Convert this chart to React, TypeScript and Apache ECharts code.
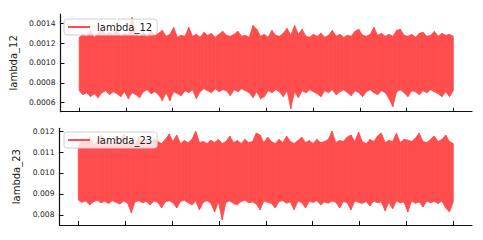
import React, { useEffect, useRef } from "react";
import * as echarts from "echarts";

// Trace envelopes (per column of iterations): upper and lower extremes
const hi12 = [
  0.00126, 0.00129, 0.00127, 0.00133, 0.00126, 0.0013, 0.00135, 0.00127, 0.00131, 0.00128,
  0.00134, 0.00127, 0.0013, 0.00128, 0.00146, 0.00129, 0.00127, 0.00131, 0.00126, 0.00133,
  0.00128, 0.0013, 0.00133, 0.00127, 0.00129, 0.00136, 0.00126, 0.00128, 0.00127, 0.00136,
  0.00127, 0.00129, 0.00126, 0.00131, 0.00128, 0.0013, 0.00126, 0.00129, 0.00132, 0.00128,
  0.00127, 0.00129, 0.00132, 0.00127, 0.00128, 0.00126, 0.00138, 0.00134, 0.00127, 0.00129,
  0.00126, 0.00133, 0.00128, 0.00127, 0.0013, 0.00135, 0.00128, 0.00138, 0.00129, 0.00134,
  0.00127, 0.00126, 0.00129, 0.00127, 0.0013, 0.00126, 0.00128, 0.00133, 0.00127, 0.00129,
  0.00126, 0.00128, 0.00127, 0.00132, 0.00134, 0.00128, 0.00127, 0.00129, 0.00136, 0.00128,
  0.0013, 0.00127, 0.00129, 0.00127, 0.00133, 0.00134, 0.00128, 0.00127, 0.00129, 0.00126,
  0.0013, 0.00131, 0.00127, 0.00128, 0.00132, 0.00127, 0.0013, 0.00128, 0.00129, 0.00127,
];
const lo12 = [
  0.00072, 0.00068, 0.0007, 0.00066, 0.00069, 0.00065, 0.0007, 0.00072, 0.00068, 0.00071,
  0.00069, 0.00066, 0.00071, 0.00064, 0.0007, 0.00068, 0.00065, 0.00071, 0.00073, 0.00069,
  0.00071, 0.00068, 0.00062, 0.0007, 0.00062, 0.00071, 0.00069, 0.00067, 0.00072, 0.0007,
  0.00073, 0.00064, 0.00071, 0.00074, 0.00072, 0.0007, 0.00074, 0.00071, 0.00073, 0.00072,
  0.00067, 0.00073, 0.00071, 0.00074, 0.00072, 0.0007, 0.00065, 0.00071, 0.00064, 0.00066,
  0.00072, 0.0007, 0.00073, 0.00071, 0.00066, 0.00072, 0.00054, 0.00071, 0.00065, 0.00072,
  0.0007, 0.00073, 0.00071, 0.00069, 0.00066, 0.00072, 0.0007, 0.00073, 0.00068, 0.00071,
  0.00073, 0.0007, 0.00067, 0.00072, 0.0007, 0.00066, 0.00071, 0.00073, 0.0007, 0.00068,
  0.00072, 0.0007, 0.00064, 0.00056, 0.00071, 0.00073, 0.0007, 0.00066, 0.00072, 0.00071,
  0.00068, 0.00072, 0.0007, 0.00073, 0.00071, 0.00069, 0.00066, 0.00071, 0.00066, 0.00072,
];
const hi23 = [
  0.0113, 0.0116, 0.0114, 0.01175, 0.01135, 0.0115, 0.0118, 0.0114, 0.0116, 0.01135,
  0.0117, 0.01145, 0.01185, 0.0114, 0.01155, 0.01135, 0.0117, 0.01145, 0.0116, 0.0114,
  0.01165, 0.0115, 0.0114, 0.0116, 0.01186, 0.0115, 0.01181, 0.0114, 0.01155, 0.01145,
  0.0116, 0.012, 0.01145, 0.0115, 0.0114, 0.01157, 0.01145, 0.0116, 0.0114, 0.0115,
  0.01176, 0.01145, 0.01155, 0.0114, 0.0116, 0.01145, 0.0115, 0.0119, 0.01181, 0.01145,
  0.01171, 0.0115, 0.0114, 0.0116, 0.01145, 0.01176, 0.0115, 0.0114, 0.01155, 0.01171,
  0.01145, 0.01155, 0.0114, 0.0116, 0.01145, 0.0115, 0.0116, 0.012, 0.01145, 0.01155,
  0.0115, 0.01171, 0.01181, 0.0115, 0.01195, 0.0115, 0.0114, 0.0116, 0.0115, 0.01176,
  0.0119, 0.01145, 0.01155, 0.0115, 0.0119, 0.01145, 0.0116, 0.01157, 0.0115, 0.01165,
  0.0119, 0.0115, 0.01145, 0.0116, 0.01176, 0.0115, 0.0116, 0.01181, 0.0115, 0.0114,
];
const lo23 = [
  0.00871, 0.0086, 0.00866, 0.00848, 0.00862, 0.0087, 0.00858, 0.00865, 0.00855, 0.00868,
  0.0086, 0.00852, 0.00866, 0.00857, 0.0081, 0.00862, 0.00868, 0.00858, 0.00864, 0.00848,
  0.00866, 0.0086, 0.00833, 0.00862, 0.00868, 0.00858, 0.00833, 0.00864, 0.0087, 0.00858,
  0.00848, 0.00866, 0.00824, 0.0086, 0.00868, 0.00856, 0.00814, 0.00862, 0.00776, 0.0086,
  0.00866, 0.00855, 0.00848, 0.00864, 0.0087, 0.00858, 0.00862, 0.00852, 0.00824, 0.00866,
  0.0086, 0.00855, 0.00833, 0.00864, 0.00868, 0.00856, 0.00862, 0.00824, 0.00866, 0.00858,
  0.00833, 0.00864, 0.0086, 0.00868, 0.00848, 0.00862, 0.00856, 0.00866, 0.0086, 0.00833,
  0.00864, 0.00858, 0.00824, 0.00866, 0.0086, 0.00855, 0.00864, 0.00843, 0.00866, 0.00858,
  0.00862, 0.0082, 0.0086, 0.00829, 0.00866, 0.00858, 0.00862, 0.00814, 0.00866, 0.00856,
  0.00862, 0.00838, 0.00866, 0.00858, 0.00864, 0.00855, 0.00866, 0.00833, 0.00814, 0.00862,
];

const LAST_ITER = 8000;
const xTicks = [0, 1000, 2000, 3000, 4000, 5000, 6000, 7000, 8000];
const yTicks12 = [0.0006, 0.0008, 0.001, 0.0012, 0.0014];
const yTicks23 = [0.008, 0.009, 0.01, 0.011, 0.012];
const names = ["lambda_12", "lambda_23"];

const RED = "#ff4d4d";
const FONT = "DejaVu Sans";

function iterOf(i: number, n: number) {
  return (i * LAST_ITER) / (n - 1);
}

export default function App() {
  const ref = useRef<HTMLDivElement>(null);
  useEffect(() => {
    if (!ref.current) return;
    const chart = echarts.init(ref.current, undefined, { renderer: "svg" });
    const mkAxisX = (gi: number) => ({
      type: "value",
      gridIndex: gi,
      min: -400,
      max: 8400,
      z: 5,
      axisLine: { show: true, onZero: false, lineStyle: { color: "#111", width: 1.2 } },
      axisTick: { show: true, inside: true, length: 4, customValues: xTicks, lineStyle: { color: "#111", width: 1 } },
      axisLabel: { show: false, customValues: xTicks },
      splitLine: { show: false },
    });
    const mkAxisY = (gi: number, name: string, min: number, max: number, ticks: number[], dec: number) => ({
      type: "value",
      gridIndex: gi,
      min,
      max,
      z: 5,
      name,
      nameLocation: "middle",
      nameGap: 31,
      nameTextStyle: { fontFamily: FONT, fontSize: 10, color: "#222" },
      axisLine: { show: true, onZero: false, lineStyle: { color: "#111", width: 1.2 } },
      axisTick: { show: true, inside: true, length: 4, customValues: ticks, lineStyle: { color: "#111", width: 1 } },
      axisLabel: {
        show: true,
        customValues: ticks,
        margin: 5,
        fontFamily: FONT,
        fontSize: 7.6,
        color: "#222",
        formatter: (v: number) => v.toFixed(dec),
      },
      splitLine: { show: false },
    });
    const mkSeries = (name: string, hi: number[], lo: number[], ai: number) => ({
      name,
      type: "custom",
      xAxisIndex: ai,
      yAxisIndex: ai,
      itemStyle: { color: RED },
      encode: { x: 0, y: [1, 2] },
      silent: true,
      data: hi.map((v, i) => [iterOf(i, hi.length), v, lo[i]]),
      renderItem: (params: any, api: any) => {
        const i = params.dataIndexInside;
        if (i >= params.dataInsideLength - 1) return null;
        const x0 = api.value(0, i);
        const x1 = api.value(0, i + 1);
        const pts = [
          api.coord([x0, api.value(1, i)]),
          api.coord([x1, api.value(1, i + 1)]),
          api.coord([x1, api.value(2, i + 1)]),
          api.coord([x0, api.value(2, i)]),
        ];
        return {
          type: "polygon",
          shape: { points: pts },
          style: { fill: RED, stroke: RED, lineWidth: 0.8 },
        };
      },
    });
    const mkLegend = (name: string, top: number) => ({
      data: [{ name, icon: "rect" }],
      left: 64,
      top,
      orient: "horizontal",
      itemWidth: 22,
      itemHeight: 2,
      itemGap: 5,
      z: 10,
      padding: [3, 5, 3, 4],
      backgroundColor: "rgba(255,255,255,0.8)",
      borderColor: "#d0d0d0",
      borderWidth: 1,
      borderRadius: 3,
      itemStyle: { color: RED },
      textStyle: { fontFamily: FONT, fontSize: 10, color: "#222", padding: [0, 0, 0, 2] },
    });
    chart.setOption({
      animation: false,
      textStyle: { fontFamily: FONT },
      grid: [
        { left: 59.5, top: 14, width: 412.5, height: 97.7 },
        { left: 59.5, top: 128.3, width: 412.5, height: 96.7 },
      ],
      xAxis: [mkAxisX(0), mkAxisX(1)],
      yAxis: [
        mkAxisY(0, names[0], 0.000508, 0.001495, yTicks12, 4),
        mkAxisY(1, names[1], 0.00752, 0.01213, yTicks23, 3),
      ],
      legend: [mkLegend(names[0], 19), mkLegend(names[1], 132)],
      series: [mkSeries(names[0], hi12, lo12, 0), mkSeries(names[1], hi23, lo23, 1)],
    });
    return () => chart.dispose();
  }, []);
  return (
    <div
      ref={ref}
      style={{ position: "fixed", left: 0, top: 0, width: 483, height: 240, background: "#fff" }}
    />
  );
}
